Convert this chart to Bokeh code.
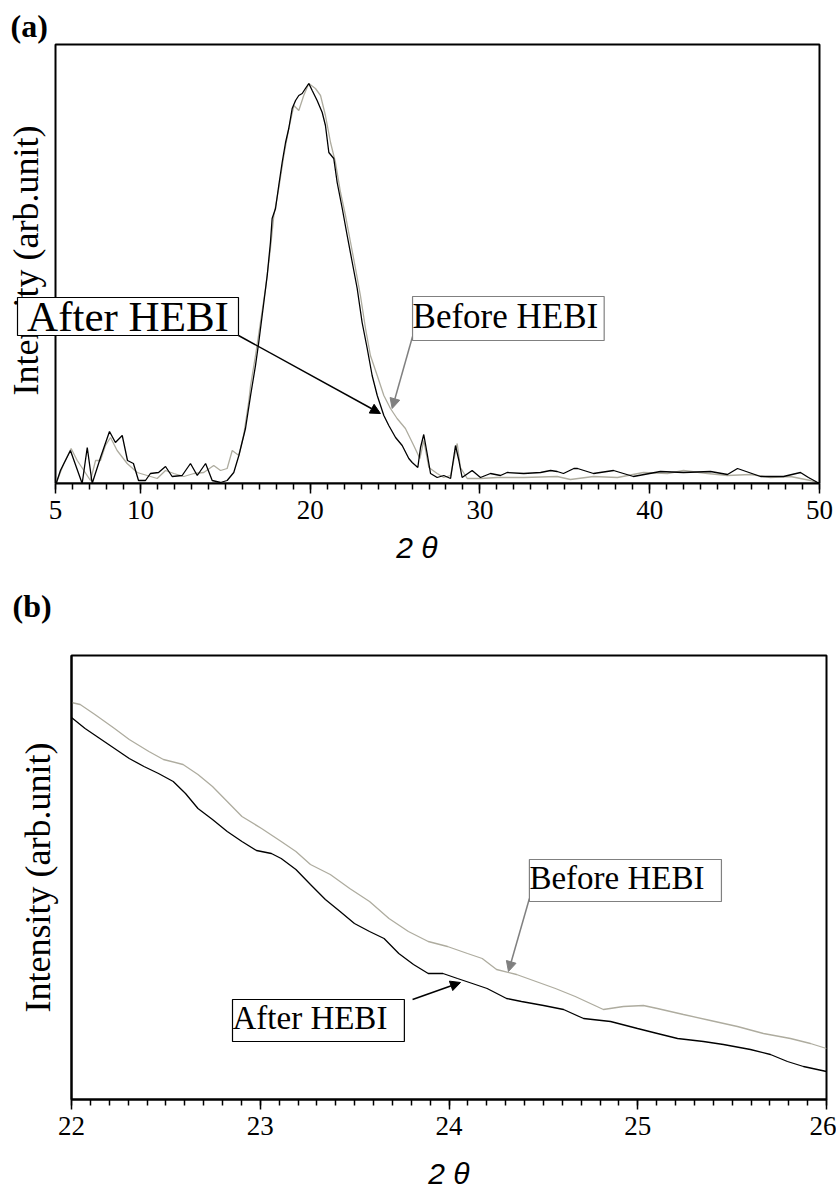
import math
from bokeh.plotting import figure
from bokeh.models import Range1d, FixedTicker, Label, Arrow, NormalHead, BoxAnnotation, Title
from bokeh.embed import file_html
from bokeh.resources import INLINE

# ---------------- data: panel (a) ----------------
a_after_x = [5.04, 5.29, 5.88, 6.57, 6.87, 7.16, 7.65, 8.18, 8.53, 8.93, 9.24, 9.59, 9.89, 10.30, 10.59,
             11.07, 11.48, 11.87, 12.46, 12.95, 13.35, 13.84, 14.23, 14.72, 15.11, 15.50, 15.80, 16.19,
             16.49, 16.78, 16.97, 17.27, 17.47, 17.66, 17.76, 17.96, 18.15, 18.35, 18.55, 18.74, 18.94,
             19.14, 19.33, 19.53, 19.72, 19.92, 20.12, 20.41, 20.71, 20.90, 21.10, 21.39, 21.59, 21.89,
             22.18, 22.48, 22.77, 23.06, 23.36, 23.65, 23.95, 24.34, 24.63, 25.03, 25.42, 25.81, 26.01,
             26.34, 26.50, 26.69, 26.89, 27.09, 27.48, 27.87, 28.27, 28.56, 28.76, 28.95, 29.54, 30.03,
             30.62, 31.21, 31.60, 32.58, 33.57, 34.16, 34.55, 34.92, 35.53, 35.75, 36.69, 37.87, 39.04,
             40.63, 41.99, 43.58, 44.58, 45.17, 46.53, 47.88, 48.88, 49.35, 50.0]
a_after_y = [0, 13, 33, 0, 36, 0, 26, 52, 41, 48, 23, 20, 3, 3, 10,
             11, 17, 7, 8, 20, 8, 20, 3, 1, 3, 11, 28, 55,
             88, 118, 141, 181, 208, 241, 265, 275, 298, 321, 341, 355, 375,
             383, 388, 390, 395, 400, 393, 383, 371, 358, 331, 325, 301, 275,
             248, 221, 195, 161, 135, 108, 88, 68, 58, 46, 38, 25, 21,
             16, 36, 49, 30, 10, 6, 8, 5, 38, 23, 6, 13, 6,
             10, 8, 11, 10, 11, 13, 12, 10, 15, 15, 10, 13, 7,
             12, 11, 12, 9, 15, 7, 7, 11, 6, 0]

a_before_x = [5.04, 5.10, 5.49, 5.92, 6.28, 6.67, 7.06, 7.36, 7.65, 7.94, 8.24, 8.63, 9.22, 9.81, 10.40,
              10.99, 11.48, 11.97, 12.56, 13.15, 13.73, 14.32, 14.72, 15.11, 15.41, 15.80, 16.09, 16.39,
              16.49, 16.78, 17.07, 17.37, 17.66, 17.86, 18.15, 18.45, 18.74, 19.04, 19.33, 19.62, 19.92,
              20.31, 20.61, 20.90, 21.20, 21.49, 21.79, 22.08, 22.38, 22.67, 22.96, 23.26, 23.55, 23.95,
              24.34, 24.73, 25.12, 25.61, 26.10, 26.46, 26.69, 26.99, 27.48, 27.87, 28.27, 28.66, 28.85,
              29.25, 30.03, 31.02, 32.58, 34.55, 35.33, 36.69, 38.10, 39.63, 41.05, 41.99, 43.40, 44.58,
              45.94, 47.11, 48.29, 49.47, 50.0]
a_before_y = [0, 3, 20, 35, 23, 13, 3, 23, 23, 38, 46, 33, 20, 11, 8,
              5, 13, 10, 7, 10, 11, 18, 13, 15, 33, 28, 49, 83,
              98, 128, 161, 195, 235, 268, 295, 328, 355, 378, 373, 388, 400,
              395, 388, 368, 341, 321, 291, 268, 241, 215, 188, 155, 128, 108,
              88, 75, 65, 55, 38, 25, 43, 16, 10, 6, 8, 40, 16,
              5, 5, 6, 6, 7, 4, 7, 6, 11, 10, 13, 10, 8,
              9, 6, 7, 3, 0]

a_ticks = [5, 10, 20, 30, 40, 50]
a_minor = list(range(5, 51))

# ---------------- data: panel (b) ----------------
b_before_x = [22.000, 22.046, 22.124, 22.228, 22.306, 22.410, 22.487, 22.591, 22.670, 22.747, 22.825,
              22.903, 23.007, 23.111, 23.189, 23.266, 23.371, 23.474, 23.579, 23.682, 23.785, 23.890,
              23.992, 24.098, 24.176, 24.252, 24.358, 24.461, 24.564, 24.669, 24.818, 24.924, 25.030,
              25.104, 25.242, 25.385, 25.528, 25.666, 25.809, 25.915, 26.000]
b_before_y = [397, 395, 385, 371, 360, 348, 340, 335, 325, 313, 298,
              283, 271, 258, 248, 235, 225, 211, 198, 181, 168, 158,
              153, 146, 141, 130, 125, 118, 111, 103, 90, 93, 94,
              91, 85, 79, 73, 66, 61, 56, 51]

b_after_x = [22.000, 22.072, 22.150, 22.228, 22.306, 22.384, 22.461, 22.539, 22.604, 22.670, 22.747,
             22.825, 22.903, 22.980, 23.059, 23.111, 23.189, 23.266, 23.345, 23.423, 23.499, 23.579,
             23.656, 23.734, 23.812, 23.890, 23.968, 24.045, 24.124, 24.202, 24.305, 24.384, 24.501,
             24.607, 24.713, 24.856, 24.999, 25.104, 25.211, 25.348, 25.454, 25.597, 25.703, 25.793,
             25.878, 26.000]
b_after_y = [382, 371, 361, 351, 341, 333, 326, 318, 306, 291, 280,
             268, 258, 249, 246, 241, 230, 215, 200, 188, 176, 168,
             161, 146, 135, 126, 126, 121, 116, 111, 101, 98, 94,
             90, 81, 78, 71, 66, 61, 58, 55, 50, 45, 38,
             33, 28]

b_ticks = [22, 23, 24, 25, 26]
b_minor = [22 + i / 10 for i in range(41)]

BLACK = "#000000"
GRAY = "#aeac9f"
ARROW_GRAY = "#808080"
SERIF = "Liberation Serif"
YLABEL = "Intensity (arb.unit)"


def style_x(p, ticks, minor, bounds, lab_standoff):
    p.grid.visible = False
    xa = p.xaxis[0]
    xa.ticker = FixedTicker(ticks=ticks, minor_ticks=minor)
    xa.bounds = bounds
    xa.axis_line_width = 2
    xa.major_tick_line_width = 1.5
    xa.minor_tick_line_width = 1.5
    xa.major_tick_in = 0
    xa.minor_tick_in = 0
    xa.major_tick_out = 10
    xa.minor_tick_out = 6
    xa.major_label_standoff = 7
    xa.major_label_text_font = SERIF
    xa.major_label_text_font_size = "27px"
    xa.major_label_text_color = "black"
    xa.axis_label = "2 θ"
    xa.axis_label_standoff = lab_standoff
    xa.axis_label_text_font = "Liberation Sans"
    xa.axis_label_text_font_style = "italic"
    xa.axis_label_text_font_size = "30px"
    xa.axis_label_text_color = "black"


def style_title(t, text, offset, standoff):
    t.text = text
    t.align = "left"
    t.offset = offset
    t.standoff = standoff
    t.text_font = SERIF
    t.text_font_style = "bold"
    t.text_font_size = "32px"
    t.text_color = "black"


def box(p, text, x, y, border, pad, size="33px"):
    p.add_layout(Label(x=x, y=y, text=text, anchor="top_left", text_font=SERIF,
                       text_font_size=size, text_color="black",
                       border_line_color=border, border_line_width=1.2,
                       background_fill_color="white", padding=pad))


def arrow(p, x0, y0, x1, y1, color):
    p.add_layout(Arrow(x_start=x0, y_start=y0, x_end=x1, y_end=y1, line_color=color, line_width=1.5,
                       end=NormalHead(size=10, fill_color=color, line_color=color)))


# ---------------- panel (a) ----------------
# the frame reaches a little left of 2θ = 5 so that the "After HEBI" box is not clipped
pa = figure(frame_width=809, frame_height=442, x_range=Range1d(2.467, 50.118), y_range=Range1d(0, 442),
            min_border_left=12, min_border_right=15, min_border_top=41, min_border_bottom=158,
            y_axis_location=None, output_backend="svg", toolbar_location=None)
pa.outline_line_color = None
style_x(pa, a_ticks, a_minor, (5, 50), 9)
style_title(pa.title, "(a)", -2, -4)
pa.add_layout(BoxAnnotation(left=5, right=50, bottom=0, top=439, fill_color=None, fill_alpha=0,
                            line_color="black", line_alpha=1.0, line_width=2))
pa.add_layout(Label(x=3.233, y=223, text=YLABEL, angle=math.pi / 2, anchor="center",
                    text_font=SERIF, text_font_size="36px", text_color="black"))
pa.line(a_before_x, a_before_y, line_color=GRAY, line_width=1.3)
pa.line(a_after_x, a_after_y, line_color=BLACK, line_width=1.3)
arrow(pa, 15.78, 148, 24.14, 70, BLACK)
arrow(pa, 26.03, 147, 24.83, 75, ARROW_GRAY)
# "After HEBI" text box (larger font in this panel)
pa.add_layout(BoxAnnotation(left=2.762, right=15.778, bottom=148, top=186, fill_color="white",
                            fill_alpha=1.0, line_color="black", line_alpha=1.0, line_width=1.2))
pa.add_layout(Label(x=9.27, y=167, text="After HEBI", anchor="center", text_font=SERIF,
                    text_font_size="43px", text_color="black"))
box(pa, "Before HEBI", 26.03, 187, ARROW_GRAY, (0, 6, 0, 5), "35px")

# panel label "(b)" sits in the gap between the two panels
tb = Title()
style_title(tb, "(b)", 0, 38)
pa.add_layout(tb, "below")

# ---------------- panel (b) ----------------
pb = figure(frame_width=755, frame_height=444, x_range=Range1d(22, 26), y_range=Range1d(0, 444),
            min_border_left=71, min_border_right=10, min_border_top=13, min_border_bottom=94,
            output_backend="svg", toolbar_location=None)
pb.title.text = ""
pb.title.standoff = 0
pb.outline_line_color = "black"
pb.outline_line_width = 2
style_x(pb, b_ticks, b_minor, "auto", 19)
ya = pb.yaxis[0]
ya.ticker = FixedTicker(ticks=[])
ya.axis_line_width = 2
ya.major_tick_out = 0
ya.minor_tick_out = 0
ya.major_label_standoff = 0
ya.axis_label = YLABEL
ya.axis_label_standoff = 14
ya.axis_label_text_font = SERIF
ya.axis_label_text_font_style = "normal"
ya.axis_label_text_font_size = "36px"
ya.axis_label_text_color = "black"
pb.line(b_before_x, b_before_y, line_color=GRAY, line_width=1.3)
pb.line(b_after_x, b_after_y, line_color=BLACK, line_width=1.3)
arrow(pb, 24.426, 201, 24.315, 128, ARROW_GRAY)
arrow(pb, 23.807, 100, 24.061, 117, BLACK)
box(pb, "Before HEBI", 24.426, 240, ARROW_GRAY, (0, 17, 0, 6))
box(pb, "After HEBI", 22.853, 100, BLACK, (0, 17, 0, 6))

open("out.html", "w").write(file_html([pa, pb], INLINE))
